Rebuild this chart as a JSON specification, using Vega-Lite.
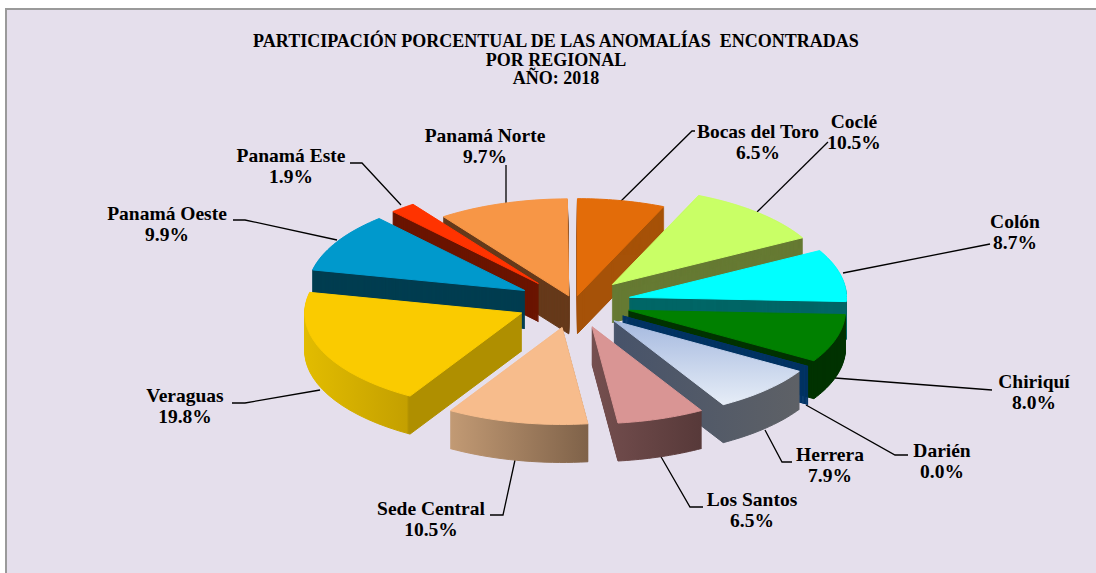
{
"$schema":"https://vega.github.io/schema/vega-lite/v6.json",
"width":1096,"height":573,"autosize":{"type":"none"},"padding":0,"background":"#ffffff",
"config":{"view":{"stroke":null}},
"title":{"text":["PARTICIPACIÓN PORCENTUAL DE LAS ANOMALÍAS \u00a0ENCONTRADAS","POR REGIONAL","AÑO: 2018"],"anchor":"middle","frame":"group","dx":8,"offset":-88,"baseline":"top","font":"Liberation Serif","fontSize":18,"fontWeight":"bold","color":"#000000","lineHeight":18.5},
"datasets":{"anomalias":[
{"region":"Panamá Norte","value":9.7,"orden":12},
{"region":"Bocas del Toro","value":6.5,"orden":1},
{"region":"Panamá Este","value":1.9,"orden":11},
{"region":"Panamá Oeste","value":9.9,"orden":10},
{"region":"Coclé","value":10.5,"orden":2},
{"region":"Colón","value":8.7,"orden":3},
{"region":"Chiriquí","value":8.0,"orden":4},
{"region":"Darién","value":0.0,"orden":5},
{"region":"Herrera","value":7.9,"orden":6},
{"region":"Veraguas","value":19.8,"orden":9},
{"region":"Sede Central","value":10.5,"orden":8},
{"region":"Los Santos","value":6.5,"orden":7}
]},
"data":{"name":"anomalias"},
"encoding":{
"x":{"field":"x","type":"quantitative","scale":{"domain":[0,1096],"nice":false,"zero":false},"axis":null},
"y":{"field":"y","type":"quantitative","scale":{"domain":[0,573],"reverse":true,"nice":false,"zero":false},"axis":null}
},
"layer":[
{"data":{"values":[{"x":6,"y":9,"x2":1130,"y2":600}]},
 "mark":{"type":"rect","fill":"#E5DFEC","stroke":"#9A9A9A","strokeWidth":2,"clip":true},
 "encoding":{"x2":{"field":"x2"},"y2":{"field":"y2"}}},
{"transform":[
 {"calculate":"{'Bocas del Toro':[[0,620,202],[1,692,131],[2,695,131]],'Coclé':[[0,757,212],[1,828,142],[2,828,142]],'Colón':[[0,843,273],[1,990,244],[2,990,244]],'Chiriquí':[[0,835,378],[1,992,390],[2,992,390]],'Darién':[[0,806,405],[1,895,455],[2,908,455]],'Herrera':[[0,765,430],[1,782,462],[2,792,462]],'Los Santos':[[0,660,455],[1,690,507],[2,703,507]],'Sede Central':[[0,515,460],[1,503,515],[2,490,515]],'Veraguas':[[0,320,390],[1,245,403],[2,232,403]],'Panamá Oeste':[[0,337,240],[1,245,220],[2,233,220]],'Panamá Este':[[0,401,205],[1,362,163],[2,350,163]],'Panamá Norte':[[0,506,207],[1,506,165],[2,506,165]]}[datum.region]","as":"guia"},
 {"flatten":["guia"]},
 {"calculate":"datum.guia[0]","as":"i"},
 {"calculate":"datum.guia[1]","as":"x"},
 {"calculate":"datum.guia[2]","as":"y"}
 ],
 "mark":{"type":"line","stroke":"#000000","strokeWidth":1.3,"interpolate":"linear"},
 "encoding":{"detail":{"field":"region"},"order":{"field":"i"}}},
{"transform":[
 {"window":[{"op":"sum","field":"value","as":"acum"}],"sort":[{"field":"orden"}],"frame":[null,0]},
 {"calculate":"2*PI*(datum.acum-datum.value)/100","as":"t0"},
 {"calculate":"2*PI*datum.acum/100","as":"t1"},
 {"calculate":"(datum.t0+datum.t1)/2","as":"tm"},
 {"calculate":"(datum.region=='Bocas del Toro'||datum.region=='Panamá Norte')?0.3:1","as":"f"},
 {"calculate":"[38,37,36,35,34,33,32,31,30,29,28,27,26,25,24,23,22,21,20,19,18,17,16,15,14,13,12,11,10,9,8,7,6,5,4,3,2,1,0]","as":"nivel"},
 {"flatten":["nivel"]},
 {"calculate":"[-1,0,0.05,0.1,0.15,0.2,0.25,0.3,0.35,0.4,0.45,0.5,0.55,0.6,0.65,0.7,0.75,0.8,0.85,0.9,0.95,1,2]","as":"p"},
 {"flatten":["p"]},
 {"calculate":"datum.t0+clamp(datum.p,0,1)*(datum.t1-datum.t0)","as":"th"},
 {"calculate":"(datum.p<0||datum.p>1)?0:1","as":"r"},
 {"calculate":"574+57*datum.f*sin(datum.tm)+217*datum.r*sin(datum.th)","as":"x"},
 {"calculate":"303-25*datum.f*cos(datum.tm)-97*datum.r*cos(datum.th)+datum.nivel","as":"y"},
 {"calculate":"datum.region+(datum.nivel>0?' lado':' cara')","as":"parte"}
 ],
 "mark":{"type":"line","strokeWidth":1,"interpolate":"linear","strokeJoin":"round"},
 "encoding":{
  "detail":{"field":"nivel"},
  "order":{"field":"p"},
  "fill":{"condition":[
    {"test":"datum.parte=='Herrera cara'","value":{"gradient":"linear","x1":0,"y1":0,"x2":0,"y2":1,"stops":[{"offset":0,"color":"#A5B9DF"},{"offset":1,"color":"#E6EDF7"}]}},
    {"test":"datum.parte=='Herrera lado'","value":{"gradient":"linear","x1":0,"y1":0,"x2":1,"y2":0,"stops":[{"offset":0,"color":"#47536A"},{"offset":1,"color":"#5E6166"}]}},
    {"test":"datum.parte=='Sede Central lado'","value":{"gradient":"linear","x1":0,"y1":0,"x2":1,"y2":0,"stops":[{"offset":0,"color":"#C29A74"},{"offset":1,"color":"#7F6249"}]}},
    {"test":"datum.parte=='Los Santos lado'","value":{"gradient":"linear","x1":0,"y1":0,"x2":1,"y2":0,"stops":[{"offset":0,"color":"#754F4F"},{"offset":1,"color":"#573939"}]}},
    {"test":"datum.parte=='Veraguas lado'","value":{"gradient":"linear","x1":0,"y1":0,"x2":1,"y2":0,"stops":[{"offset":0,"color":"#E2BC00"},{"offset":0.47,"color":"#C4A000"},{"offset":0.48,"color":"#AF8F00"},{"offset":1,"color":"#AF8F00"}]}}
   ],"field":"parte","type":"nominal","legend":null,"scale":{"domain":["Bocas del Toro cara","Bocas del Toro lado","Coclé cara","Coclé lado","Colón cara","Colón lado","Chiriquí cara","Chiriquí lado","Darién cara","Darién lado","Herrera cara","Herrera lado","Los Santos cara","Los Santos lado","Sede Central cara","Sede Central lado","Veraguas cara","Veraguas lado","Panamá Oeste cara","Panamá Oeste lado","Panamá Este cara","Panamá Este lado","Panamá Norte cara","Panamá Norte lado"],"range":["#E36C09","#A65208","#C9FF66","#667A33","#00FFFF","#006666","#008000","#003300","#003366","#003366","#BFCFE8","#565E68","#D99594","#623F3F","#F7BC8C","#A07F5F","#FACB00","#BE9C00","#0099CC","#003D50","#FF3300","#6B1500","#F79646","#663A1B"]}},
  "stroke":{"condition":[
    {"test":"datum.parte=='Herrera cara'","value":{"gradient":"linear","x1":0,"y1":0,"x2":0,"y2":1,"stops":[{"offset":0,"color":"#A5B9DF"},{"offset":1,"color":"#E6EDF7"}]}},
    {"test":"datum.parte=='Herrera lado'","value":{"gradient":"linear","x1":0,"y1":0,"x2":1,"y2":0,"stops":[{"offset":0,"color":"#47536A"},{"offset":1,"color":"#5E6166"}]}},
    {"test":"datum.parte=='Sede Central lado'","value":{"gradient":"linear","x1":0,"y1":0,"x2":1,"y2":0,"stops":[{"offset":0,"color":"#C29A74"},{"offset":1,"color":"#7F6249"}]}},
    {"test":"datum.parte=='Los Santos lado'","value":{"gradient":"linear","x1":0,"y1":0,"x2":1,"y2":0,"stops":[{"offset":0,"color":"#754F4F"},{"offset":1,"color":"#573939"}]}},
    {"test":"datum.parte=='Veraguas lado'","value":{"gradient":"linear","x1":0,"y1":0,"x2":1,"y2":0,"stops":[{"offset":0,"color":"#E2BC00"},{"offset":0.47,"color":"#C4A000"},{"offset":0.48,"color":"#AF8F00"},{"offset":1,"color":"#AF8F00"}]}}
   ],"field":"parte","type":"nominal","legend":null,"scale":{"domain":["Bocas del Toro cara","Bocas del Toro lado","Coclé cara","Coclé lado","Colón cara","Colón lado","Chiriquí cara","Chiriquí lado","Darién cara","Darién lado","Herrera cara","Herrera lado","Los Santos cara","Los Santos lado","Sede Central cara","Sede Central lado","Veraguas cara","Veraguas lado","Panamá Oeste cara","Panamá Oeste lado","Panamá Este cara","Panamá Este lado","Panamá Norte cara","Panamá Norte lado"],"range":["#E36C09","#A65208","#C9FF66","#667A33","#00FFFF","#006666","#008000","#003300","#003366","#003366","#BFCFE8","#565E68","#D99594","#623F3F","#F7BC8C","#A07F5F","#FACB00","#BE9C00","#0099CC","#003D50","#FF3300","#6B1500","#F79646","#663A1B"]}}
 }},
{"transform":[
 {"calculate":"{'Bocas del Toro':[758,132],'Coclé':[854,122],'Colón':[1015,222],'Chiriquí':[1034,382],'Darién':[942,451],'Herrera':[830,455],'Los Santos':[752,500],'Sede Central':[431,509],'Veraguas':[185,396],'Panamá Oeste':[167,214],'Panamá Este':[291,156],'Panamá Norte':[485,136]}[datum.region]","as":"pos"},
 {"calculate":"datum.pos[0]","as":"x"},
 {"calculate":"datum.pos[1]","as":"y"},
 {"calculate":"datum.region+'\\n'+format(datum.value,'.1f')+'%'","as":"etiqueta"}
 ],
 "mark":{"type":"text","lineBreak":"\n","font":"Liberation Serif","fontSize":19.5,"fontWeight":"bold","lineHeight":20.5,"align":"center","baseline":"middle","color":"#000000"},
 "encoding":{"text":{"field":"etiqueta"}}}
]
}
